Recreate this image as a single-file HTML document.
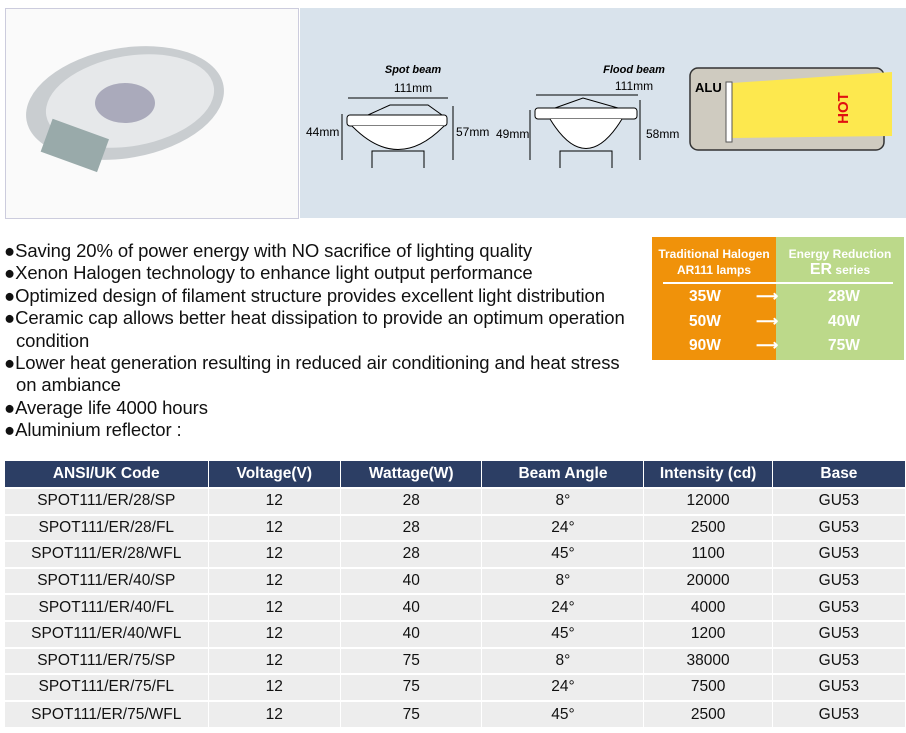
<!DOCTYPE html>
<html><head><style>
body{margin:0;width:906px;height:733px;background:#fff;font-family:"Liberation Sans",sans-serif;position:relative;overflow:hidden}
.abs{position:absolute}
.bul{left:4px;top:240px;font-size:18.5px;line-height:22.4px;color:#111;width:638px;letter-spacing:-0.1px}
.bul div{padding-left:12px;text-indent:-12px}
table{position:absolute;left:5px;top:461px;border-collapse:collapse;font-size:15.5px;text-align:center}
th{background:#2c3e64;color:#fff;height:26px;font-weight:bold;border-right:1px solid #fff;padding:0;font-size:15.5px}
td{background:#ededed;border-top:2px solid #fff;border-right:1px solid #fff;padding:0;color:#111}
tr.r{height:26.6px}
</style></head><body>
<div class="abs" style="left:5px;top:8px;width:292px;height:209px;border:1px solid #ccd;background:#fafafa"></div>
<svg class="abs" style="left:5px;top:8px" width="292" height="210">
<ellipse cx="120" cy="95" rx="100" ry="55" fill="#c9cdd0" transform="rotate(-10 120 95)"/>
<ellipse cx="125" cy="93" rx="85" ry="45" fill="#e6e8ea" transform="rotate(-10 125 93)"/>
<ellipse cx="120" cy="95" rx="30" ry="20" fill="#aab" />
<rect x="40" y="120" width="60" height="35" fill="#9aa" transform="rotate(20 70 137)"/>
</svg>
<div class="abs" style="left:300px;top:8px;width:606px;height:210px;background:#d9e3ec"></div>
<svg class="abs" style="left:300px;top:8px;font-family:'Liberation Sans',sans-serif" width="606" height="210">
<g font-size="11" text-anchor="middle" font-style="italic" font-weight="bold"><text x="113" y="65">Spot beam</text><text x="334" y="65">Flood beam</text></g>
<g font-size="12"><text x="113" y="84" text-anchor="middle">111mm</text><text x="334" y="82" text-anchor="middle">111mm</text>
<text x="6" y="128">44mm</text><text x="156" y="128">57mm</text><text x="196" y="130">49mm</text><text x="346" y="130">58mm</text></g>
<g stroke="#000" fill="none"><line x1="48" y1="90" x2="148" y2="90"/><line x1="236" y1="87" x2="338" y2="87"/>
<line x1="42" y1="106" x2="42" y2="152"/><line x1="153" y1="98" x2="153" y2="152"/><line x1="230" y1="102" x2="230" y2="152"/><line x1="340" y1="92" x2="340" y2="152"/>
<rect x="47" y="107" width="100" height="11" rx="3" fill="#fff"/><path d="M52 118 Q98 165 144 118" fill="#fff"/><path d="M68 107 L90 97 L128 97 L142 107"/>
<path d="M72 160 V143 H124 V160"/>
<rect x="235" y="100" width="102" height="11" rx="3" fill="#fff"/><path d="M250 111 Q286 170 322 111" fill="#fff"/><path d="M255 100 L283 90 L318 100"/>
<path d="M260 160 V143 H312 V160"/></g>
<rect x="390" y="60" width="194" height="82" rx="8" fill="#cfcbc0" stroke="#333" stroke-width="1.5"/>
<path d="M432 75 L592 64 V128 L432 130 Z" fill="#fde84e"/>
<rect x="426" y="74" width="6" height="60" fill="#fff" stroke="#555"/>
<text x="395" y="84" font-size="13" font-weight="bold">ALU</text>
<text x="548" y="100" font-size="15" font-weight="bold" fill="#e01010" transform="rotate(-90 548 100)" text-anchor="middle">HOT</text>
</svg>
<div class="abs bul">
<div>●Saving 20% of power energy with NO sacrifice of lighting quality</div>
<div>●Xenon Halogen technology to enhance light output performance</div>
<div>●Optimized design of filament structure provides excellent light distribution</div>
<div>●Ceramic cap allows better heat dissipation to provide an optimum operation condition</div>
<div>●Lower heat generation resulting in reduced air conditioning and heat stress<br>on ambiance</div>
<div>●Average life 4000 hours</div>
<div>●Aluminium reflector :</div>
</div>
<div class="abs" style="left:652px;top:237px;width:124px;height:123px;background:#f0920a"></div>
<div class="abs" style="left:776px;top:237px;width:128px;height:123px;background:#bcd98a"></div>
<div class="abs" style="left:663px;top:282px;width:230px;height:2px;background:#fff"></div>
<div class="abs" style="left:652px;top:246px;width:124px;text-align:center;color:#fff;font-size:12px;font-weight:bold;line-height:16px">Traditional Halogen<br>AR111 lamps</div>
<div class="abs" style="left:776px;top:246px;width:128px;text-align:center;color:#fff;font-size:12px;font-weight:bold;line-height:16px">Energy Reduction<br><span style="font-size:16px">ER</span> series</div>
<div class="abs" style="left:652px;top:285px;width:252px;color:#fff;font-size:15.5px;font-weight:bold;line-height:24.5px">
<div style="position:relative;height:24.5px"><span class="abs" style="left:37px">35W</span><span class="abs" style="left:104px">⟶</span><span class="abs" style="left:176px">28W</span></div>
<div style="position:relative;height:24.5px"><span class="abs" style="left:37px">50W</span><span class="abs" style="left:104px">⟶</span><span class="abs" style="left:176px">40W</span></div>
<div style="position:relative;height:24.5px"><span class="abs" style="left:37px">90W</span><span class="abs" style="left:104px">⟶</span><span class="abs" style="left:176px">75W</span></div>
</div>
<table>
<tr><th style="width:203px">ANSI/UK Code</th><th style="width:132px">Voltage(V)</th><th style="width:141px">Wattage(W)</th><th style="width:162px">Beam Angle</th><th style="width:128px">Intensity (cd)</th><th style="width:133px">Base</th></tr>
<tr class="r"><td>SPOT111/ER/28/SP</td><td>12</td><td>28</td><td>8°</td><td>12000</td><td>GU53</td></tr>
<tr class="r"><td>SPOT111/ER/28/FL</td><td>12</td><td>28</td><td>24°</td><td>2500</td><td>GU53</td></tr>
<tr class="r"><td>SPOT111/ER/28/WFL</td><td>12</td><td>28</td><td>45°</td><td>1100</td><td>GU53</td></tr>
<tr class="r"><td>SPOT111/ER/40/SP</td><td>12</td><td>40</td><td>8°</td><td>20000</td><td>GU53</td></tr>
<tr class="r"><td>SPOT111/ER/40/FL</td><td>12</td><td>40</td><td>24°</td><td>4000</td><td>GU53</td></tr>
<tr class="r"><td>SPOT111/ER/40/WFL</td><td>12</td><td>40</td><td>45°</td><td>1200</td><td>GU53</td></tr>
<tr class="r"><td>SPOT111/ER/75/SP</td><td>12</td><td>75</td><td>8°</td><td>38000</td><td>GU53</td></tr>
<tr class="r"><td>SPOT111/ER/75/FL</td><td>12</td><td>75</td><td>24°</td><td>7500</td><td>GU53</td></tr>
<tr class="r"><td>SPOT111/ER/75/WFL</td><td>12</td><td>75</td><td>45°</td><td>2500</td><td>GU53</td></tr>
</table>
</body></html>
